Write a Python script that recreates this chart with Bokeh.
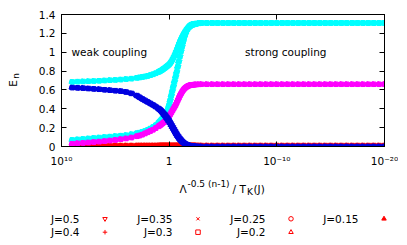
import math
from bokeh.plotting import figure
from bokeh.models import Range1d, FixedTicker, LogAxis, LinearAxis, Label
from bokeh.layouts import column, row
from bokeh.embed import file_html
from bokeh.resources import INLINE
from bokeh.core.properties import value

# ---------------- data ----------------
# log10 of  Lambda^{-0.5(n-1)} / T_K(J)
t_log = [9.0, 8.5, 8.0, 7.5, 7.0, 6.5, 6.0, 5.5, 5.0, 4.5, 4.0, 3.5, 3.0,
         2.75, 2.5, 2.25, 2.0, 1.75, 1.5, 1.25, 1.0,
         0.9, 0.8, 0.7, 0.6, 0.5, 0.4, 0.3, 0.2, 0.1, 0.0,
         -0.1, -0.2, -0.3, -0.4, -0.5, -0.6, -0.7, -0.8, -0.9, -1.0,
         -1.1, -1.2, -1.3, -1.4, -1.5, -1.6, -1.7, -1.8, -1.9, -2.0,
         -2.1, -2.2, -2.3, -2.4, -2.5, -2.75, -3.0,
         -3.5, -4.0, -4.5, -5.0, -5.5, -6.0, -6.5, -7.0, -7.5, -8.0, -8.5,
         -9.0, -9.5, -10.0, -10.5, -11.0, -11.5, -12.0, -12.5, -13.0, -13.5,
         -14.0, -14.5, -15.0, -15.5, -16.0, -16.5, -17.0, -17.5, -18.0,
         -18.5, -19.0, -19.5, -20.0]

E_red = [0.01, 0.01, 0.01, 0.01, 0.01, 0.01, 0.01, 0.01, 0.01, 0.01, 0.01, 0.01, 0.01,
         0.01, 0.01, 0.01, 0.01, 0.01, 0.01, 0.01, 0.01,
         0.01, 0.01, 0.01, 0.01, 0.01, 0.01, 0.01, 0.01, 0.01, 0.01,
         0.01, 0.01, 0.01, 0.01, 0.01, 0.01, 0.01, 0.01, 0.01, 0.01,
         0.01, 0.01, 0.01, 0.01, 0.01, 0.01, 0.01, 0.01, 0.01, 0.01,
         0.01, 0.01, 0.01, 0.01, 0.01, 0.01, 0.01,
         0.01, 0.01, 0.01, 0.01, 0.01, 0.01, 0.01, 0.01, 0.01, 0.01, 0.01,
         0.01, 0.01, 0.01, 0.01, 0.01, 0.01, 0.01, 0.01, 0.01, 0.01,
         0.01, 0.01, 0.01, 0.01, 0.01, 0.01, 0.01, 0.01, 0.01,
         0.01, 0.01, 0.01, 0.01]

E_cyan_up = [0.685, 0.688, 0.690, 0.692, 0.694, 0.697, 0.700, 0.703, 0.706, 0.710, 0.715, 0.720, 0.728,
             0.732, 0.737, 0.742, 0.748, 0.756, 0.765, 0.776, 0.790,
             0.796, 0.802, 0.809, 0.817, 0.825, 0.833, 0.842, 0.851, 0.860, 0.870,
             0.884, 0.900, 0.920, 0.942, 0.965, 0.993, 1.022, 1.052, 1.082, 1.110,
             1.135, 1.159, 1.181, 1.201, 1.220, 1.236, 1.250, 1.262, 1.272, 1.280,
             1.286, 1.291, 1.295, 1.298, 1.300, 1.306, 1.310,
             1.31, 1.31, 1.31, 1.31, 1.31, 1.31, 1.31, 1.31, 1.31, 1.31, 1.31,
             1.31, 1.31, 1.31, 1.31, 1.31, 1.31, 1.31, 1.31, 1.31, 1.31,
             1.31, 1.31, 1.31, 1.31, 1.31, 1.31, 1.31, 1.31, 1.31,
             1.31, 1.31, 1.31, 1.31]

E_cyan_low = [0.070, 0.075, 0.080, 0.085, 0.090, 0.095, 0.100, 0.105, 0.110, 0.115, 0.120, 0.130, 0.140,
              0.147, 0.155, 0.163, 0.175, 0.190, 0.205, 0.225, 0.250,
              0.262, 0.275, 0.288, 0.300, 0.313, 0.328, 0.345, 0.365, 0.400, 0.440,
              0.490, 0.540, 0.590, 0.640, 0.690, 0.740, 0.790, 0.845, 0.900, 0.955,
              1.010, 1.060, 1.110, 1.155, 1.190, 1.220, 1.245, 1.265, 1.278, 1.287,
              1.293, 1.297, 1.300, 1.302, 1.304, 1.307, 1.310,
              1.31, 1.31, 1.31, 1.31, 1.31, 1.31, 1.31, 1.31, 1.31, 1.31, 1.31,
              1.31, 1.31, 1.31, 1.31, 1.31, 1.31, 1.31, 1.31, 1.31, 1.31,
              1.31, 1.31, 1.31, 1.31, 1.31, 1.31, 1.31, 1.31, 1.31,
              1.31, 1.31, 1.31, 1.31]

E_magenta = [0.030, 0.034, 0.038, 0.042, 0.047, 0.052, 0.057, 0.063, 0.069, 0.077, 0.085, 0.095, 0.108,
             0.116, 0.126, 0.138, 0.150, 0.164, 0.178, 0.195, 0.213,
             0.221, 0.229, 0.238, 0.247, 0.257, 0.268, 0.280, 0.293, 0.307, 0.322,
             0.340, 0.360, 0.380, 0.400, 0.420, 0.440, 0.465, 0.490, 0.515, 0.540,
             0.560, 0.580, 0.597, 0.611, 0.622, 0.631, 0.638, 0.644, 0.648, 0.651,
             0.653, 0.655, 0.656, 0.657, 0.658, 0.659, 0.660,
             0.66, 0.66, 0.66, 0.66, 0.66, 0.66, 0.66, 0.66, 0.66, 0.66, 0.66,
             0.66, 0.66, 0.66, 0.66, 0.66, 0.66, 0.66, 0.66, 0.66, 0.66,
             0.66, 0.66, 0.66, 0.66, 0.66, 0.66, 0.66, 0.66, 0.66,
             0.66, 0.66, 0.66, 0.66]

E_blue = [0.625, 0.622, 0.619, 0.615, 0.611, 0.607, 0.602, 0.597, 0.592, 0.587, 0.578, 0.563, 0.540,
          0.522, 0.505, 0.489, 0.473, 0.457, 0.441, 0.423, 0.404,
          0.395, 0.385, 0.373, 0.360, 0.347, 0.333, 0.318, 0.302, 0.285, 0.267,
          0.248, 0.228, 0.208, 0.188, 0.168, 0.148, 0.129, 0.111, 0.095, 0.080,
          0.066, 0.054, 0.044, 0.035, 0.028, 0.022, 0.017, 0.013, 0.010, 0.008,
          0.006, 0.004, 0.003, 0.002, 0.001, 0.000, 0.000,
          0.0, 0.0, 0.0, 0.0, 0.0, 0.0, 0.0, 0.0, 0.0, 0.0, 0.0,
          0.0, 0.0, 0.0, 0.0, 0.0, 0.0, 0.0, 0.0, 0.0, 0.0,
          0.0, 0.0, 0.0, 0.0, 0.0, 0.0, 0.0, 0.0, 0.0,
          0.0, 0.0, 0.0, 0.0]

# per-J offset of the collapsed curves (decades)
J_labels = ["J=0.5", "J=0.4", "J=0.35", "J=0.3", "J=0.25", "J=0.2", "J=0.15"]
J_shift = [-0.1, -0.067, -0.033, 0.0, 0.033, 0.067, 0.1]

x_ticks = [1e10, 1.0, 1e-10, 1e-20]
x_tick_labels = ["10\u00b9\u2070", "1", "10\u207b\u00b9\u2070", "10\u207b\u00b2\u2070"]
y_ticks = [0.0, 0.2, 0.4, 0.6, 0.8, 1.0, 1.2, 1.4]
y_tick_labels = ["0", "0.2", "0.4", "0.6", "0.8", "1", "1.2", "1.4"]

# ---------------- styling ----------------
FONT = "DejaVu Sans"
FS = "10.5px"
SFS = "9px"
OX, OY = 1, 1            # page position of the layout's top-left corner
W = 398
LW = 20                   # width of the strip holding the y title
H1 = 169
BOTTOM = 240
J_markers = ["inverted_triangle", "cross", "x", "square", "circle", "triangle", "triangle"]
J_filled = [False, False, False, False, False, False, True]
levels = [(E_red, "#ff0000"), (E_cyan_up, "#00ffff"), (E_cyan_low, "#00ffff"),
          (E_magenta, "#ff00ff"), (E_blue, "#0000e0")]

p = figure(width=W - LW, height=H1, x_axis_type="log",
           x_range=Range1d(1e10, 1e-20), y_range=Range1d(0, 1.4),
           output_backend="svg", toolbar_location=None,
           min_border_left=61 - LW, min_border_right=14, min_border_top=14,
           min_border_bottom=21)
p.frame_align = False
p.grid.visible = False
p.outline_line_color = "black"
p.background_fill_color = "white"
p.border_fill_color = "white"

for vals, col in levels:
    for mk, sh, filled in zip(J_markers, J_shift, J_filled):
        xs = [10 ** (t + sh) for t in t_log]
        p.scatter(x=xs, y=vals, marker=mk, size=4.5, line_color=col, line_width=1,
                  fill_color=col if filled else None)

# bottom / left axes
xa = p.xaxis[0]
xa.ticker = FixedTicker(ticks=x_ticks)
xa.major_label_overrides = {k: v for k, v in zip(x_ticks, x_tick_labels)}
ya = p.yaxis[0]
ya.ticker = FixedTicker(ticks=y_ticks)
ya.major_label_overrides = {k: v for k, v in zip(y_ticks, y_tick_labels)}
for ax in (xa, ya):
    ax.major_tick_in = 5
    ax.major_tick_out = 0
    ax.minor_tick_line_color = None
    ax.axis_line_color = "black"
    ax.major_tick_line_color = "black"
    ax.major_label_text_font = FONT
    ax.major_label_text_font_size = FS
    ax.major_label_text_color = "black"
xa.major_label_standoff = 8
ya.major_label_standoff = 6

# mirrored axes (ticks only)
top = LogAxis(ticker=FixedTicker(ticks=x_ticks), major_tick_in=5, major_tick_out=0,
              minor_tick_line_color=None, major_label_text_font_size="1px",
              major_label_text_color=None,
              major_label_standoff=0, axis_line_color="black")
right = LinearAxis(ticker=FixedTicker(ticks=y_ticks), major_tick_in=5, major_tick_out=0,
                   minor_tick_line_color=None, major_label_text_font_size="1px",
                   major_label_text_color=None,
                   major_label_standoff=0, axis_line_color="black")
p.add_layout(top, "above")
p.add_layout(right, "right")

p.add_layout(Label(x=10 ** 9.07, y=1.007, text="weak coupling", text_baseline="middle",
                   text_font=FONT, text_font_size=FS, text_color="black"))
p.add_layout(Label(x=10 ** -7.05, y=1.007, text="strong coupling", text_baseline="middle",
                   text_font=FONT, text_font_size=FS, text_color="black"))

# ---------------- left strip: y title E_n (page-pixel coordinates) ----------------
L = figure(width=LW, height=H1, x_range=Range1d(OX, OX + LW), y_range=Range1d(OY + H1, OY),
           output_backend="svg", toolbar_location=None,
           x_axis_location=None, y_axis_location=None,
           min_border_left=0, min_border_right=0, min_border_top=0, min_border_bottom=0)
L.frame_align = False
L.grid.visible = False
L.outline_line_color = None
L.text(x=[13], y=[84], text=["E"], angle=math.pi / 2, text_font=value(FONT),
       text_font_size=value(FS), text_align="center", text_baseline="middle",
       text_color="black")
L.text(x=[16.5], y=[76.5], text=["n"], angle=math.pi / 2, text_font=value(FONT),
       text_font_size=value(SFS), text_align="center", text_baseline="middle",
       text_color="black")

# ---------------- lower panel: x title + key (page-pixel coordinates) ----------------
y0 = OY + H1
q = figure(width=W, height=BOTTOM - y0, x_range=Range1d(OX, OX + W),
           y_range=Range1d(BOTTOM, y0),
           output_backend="svg", toolbar_location=None,
           x_axis_location=None, y_axis_location=None,
           min_border_left=0, min_border_right=0, min_border_top=0, min_border_bottom=0)
q.frame_align = False
q.grid.visible = False
q.outline_line_color = None

title_parts = [("\u039b", 180, 189, FS), ("-0.5 (n-1)", 188, 184.5, SFS),
               ("/ T", 233, 189, FS), ("K", 247.5, 192, SFS), ("(J)", 254, 189, FS)]
for txt, tx, ty, fs in title_parts:
    q.text(x=[tx], y=[ty], text=[txt], text_font=value(FONT), text_font_size=value(fs),
           text_baseline="alphabetic", text_align="left", text_color="black")

for i, (lab, mk, filled) in enumerate(zip(J_labels, J_markers, J_filled)):
    col_i, row_i = i // 2, i % 2
    lx = 80 + 93 * col_i
    ly = 219.3 + 13.4 * row_i
    q.text(x=[lx], y=[ly], text=[lab], text_font=value(FONT), text_font_size=value(FS),
           text_baseline="middle", text_align="right", text_color="black")
    q.scatter(x=[lx + 25.5], y=[ly], marker=mk, size=4.5, line_color="#ff0000",
              line_width=1, fill_color="#ff0000" if filled else None)

layout = column(row(L, p, spacing=0), q, spacing=0)
open("out.html", "w", encoding="utf-8").write(file_html(layout, INLINE))
